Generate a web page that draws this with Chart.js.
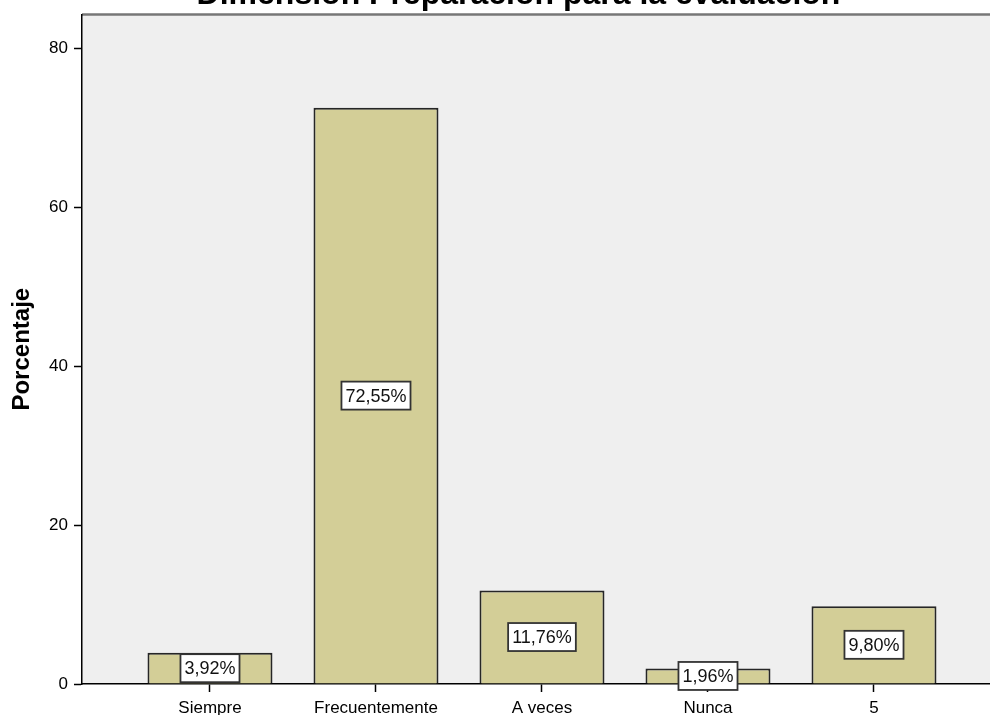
<!DOCTYPE html>
<html>
<head>
<meta charset="utf-8">
<script src="https://cdn.jsdelivr.net/npm/chart.js@4.4.0/dist/chart.umd.min.js"></script>
<style>
html, body { margin: 0; padding: 0; background: #fff; overflow: hidden; width: 990px; height: 715px; }
#wrap { position: absolute; left: 0; top: -24px; width: 1037px; height: 764px; }
</style>
</head>
<body>
<div id="wrap"><canvas id="myChart"></canvas></div>
<script>
var categories = ['Siempre', 'Frecuentemente', 'A veces', 'Nunca', '5'];
var percentages = [3.92, 72.55, 11.76, 1.96, 9.80];
var yTicks = [0, 20, 40, 60, 80];

var fontFamily = '"Liberation Sans", Arial, sans-serif';

// grey plot background and the top frame line
var plotBackground = {
    id: 'plotBackground',
    beforeDraw: function(chart){
        var a = chart.chartArea;
        var ctx = chart.ctx;
        ctx.save();
        ctx.fillStyle = '#efefef';
        ctx.fillRect(a.left, a.top, a.right - a.left, a.bottom - a.top);
        ctx.strokeStyle = '#777777';
        ctx.lineWidth = 2.5;
        ctx.beginPath();
        ctx.moveTo(a.left, a.top);
        ctx.lineTo(a.right, a.top);
        ctx.stroke();
        ctx.restore();
    }
};

// white boxes with the percentage in the middle of each bar
var valueBoxes = {
    id: 'valueBoxes',
    afterDatasetsDraw: function(chart){
        var ctx = chart.ctx;
        var meta = chart.getDatasetMeta(0);
        ctx.save();
        ctx.font = '18px ' + fontFamily;
        ctx.textAlign = 'center';
        ctx.textBaseline = 'middle';
        meta.data.forEach(function(bar, i){
            var txt = percentages[i].toFixed(2).replace('.', ',') + '%';
            var w = ctx.measureText(txt).width + 8;
            var h = 28;
            var cy = (bar.y + bar.base) / 2;
            ctx.fillStyle = '#ffffff';
            ctx.fillRect(bar.x - w / 2, cy - h / 2, w, h);
            ctx.strokeStyle = '#333333';
            ctx.lineWidth = 1.8;
            ctx.strokeRect(bar.x - w / 2, cy - h / 2, w, h);
            ctx.fillStyle = '#111111';
            ctx.fillText(txt, bar.x, cy + 1);
        });
        ctx.restore();
    }
};

var points = categories.map(function(c, i){ return {x: i, y: percentages[i]}; });

var ctx = document.getElementById('myChart').getContext('2d');
var chart = new Chart(ctx, {
    type: 'bar',
    data: {
        datasets: [{
            data: points,
            backgroundColor: '#d3ce97',
            borderColor: '#262626',
            borderWidth: 2,
            barPercentage: 0.753,
            categoryPercentage: 1
        }]
    },
    options: {
        responsive: true,
        maintainAspectRatio: false,
        animation: false,
        layout: { padding: 0 },
        plugins: {
            legend: { display: false },
            tooltip: { enabled: false },
            title: {
                display: true,
                text: 'Dimensión Preparación para la evaluación',
                color: '#000',
                font: { family: fontFamily, size: 32, weight: 'bold' },
                padding: { top: 0, bottom: 0 }
            }
        },
        scales: {
            x: {
                type: 'linear',
                offset: false,
                min: -0.771,
                max: 4.982,
                afterBuildTicks: function(s){
                    s.ticks = categories.map(function(c, i){ return {value: i}; });
                },
                afterFit: function(s){ s.height = 56; },
                ticks: {
                    callback: function(v){ return categories[v]; },
                    color: '#000',
                    font: { family: fontFamily, size: 17 },
                    padding: 6,
                    autoSkip: false,
                    maxRotation: 0
                },
                grid: { offset: false, drawOnChartArea: false, drawTicks: true, tickLength: 8, tickColor: '#000', tickWidth: 1.5 },
                border: { color: '#000', width: 1.5 }
            },
            y: {
                min: 0,
                max: 84.3,
                afterBuildTicks: function(s){
                    s.ticks = yTicks.map(function(v){ return {value: v}; });
                },
                afterFit: function(s){ s.width = 82; },
                ticks: {
                    color: '#000',
                    font: { family: fontFamily, size: 17 },
                    padding: 6
                },
                grid: { drawOnChartArea: false, drawTicks: true, tickLength: 8, tickColor: '#000', tickWidth: 1.5 },
                border: { color: '#000', width: 1.5 },
                title: {
                    display: true,
                    text: 'Porcentaje',
                    color: '#000',
                    font: { family: fontFamily, size: 24, weight: 'bold' },
                    padding: { top: 8, bottom: 0 }
                }
            }
        }
    },
    plugins: [plotBackground, valueBoxes]
});
</script>
</body>
</html>
